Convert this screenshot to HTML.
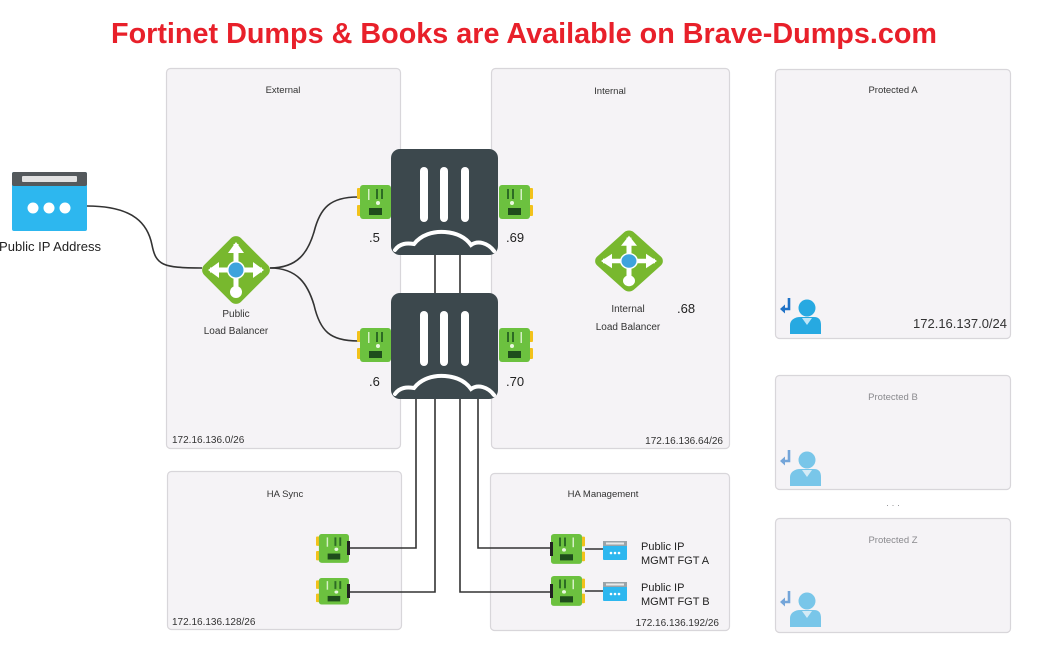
<!DOCTYPE html>
<html><head><meta charset="utf-8"><style>
html,body{margin:0;padding:0;background:#fff;}
svg{display:block;}
text{font-family:"Liberation Sans",sans-serif;}
</style></head><body>
<svg width="1056" height="666" viewBox="0 0 1056 666" xmlns="http://www.w3.org/2000/svg">
<defs>
  <g id="nic">
    <rect x="0" y="3" width="5" height="11" rx="1" fill="#f2c21b"/>
    <rect x="0" y="20" width="5" height="11" rx="1" fill="#f2c21b"/>
    <rect x="3" y="0" width="31" height="34" rx="3" fill="#6cc13f"/>
    <rect x="11" y="4" width="1.5" height="11" fill="#d6efc6"/>
    <rect x="19" y="4" width="2" height="10" fill="#2d6b24"/>
    <rect x="24" y="4" width="2" height="10" fill="#2d6b24"/>
    <circle cx="21" cy="18" r="2" fill="#eaf7df"/>
    <rect x="12" y="23" width="13" height="7" fill="#1f4d1c"/>
  </g>
  <g id="lb">
    <rect x="-26" y="-26" width="52" height="52" rx="7" fill="#78b82e" transform="rotate(45)"/>
    <path d="M-26,0 L26,0 M0,-26 L0,20" stroke="#fff" stroke-width="5" fill="none"/>
    <polygon points="-8,-17 0,-28 8,-17" fill="#fff"/>
    <polygon points="-17,-8 -28,0 -17,8" fill="#fff"/>
    <polygon points="17,-8 28,0 17,8" fill="#fff"/>
    <circle cx="0" cy="22" r="6" fill="#fff"/>
    <circle cx="0" cy="0" r="9" fill="#fff"/>
    <circle cx="0" cy="0" r="7.5" fill="#3ea3dc"/>
  </g>
  <g id="fw">
    <rect x="0" y="0" width="107" height="106" rx="9" fill="#3c484d"/>
    <rect x="29" y="18" width="8" height="55" rx="4" fill="#fff"/>
    <rect x="49" y="18" width="8" height="55" rx="4" fill="#fff"/>
    <rect x="70" y="18" width="8" height="55" rx="4" fill="#fff"/>
    <path d="M4,101 C9,94 16,94 23,95 C30,86 42,82 54,83 C67,84 75,89 80,96 C87,91 97,94 103,102" stroke="#fff" stroke-width="4" fill="none" stroke-linecap="round"/>
  </g>
  <g id="user">
    <path d="M9,1 L9,12 L4,12" stroke="#1f72c6" stroke-width="2.6" fill="none"/>
    <polygon points="0,12 5,7.5 5,16.5" fill="#1f72c6"/>
    <circle cx="27" cy="11" r="8.5" fill="#27a9e1"/>
    <path d="M10,37 L10,28 C10,23 15,20 20,20 L34,20 C39,20 41,23 41,28 L41,37 Z" fill="#27a9e1"/>
    <path d="M22,21 L27,28 L32,21 Z" fill="#bfe6f7"/>
  </g>
  <g id="ipsmall">
    <rect x="0" y="0" width="24" height="19" rx="1" fill="#2db7ef"/>
    <rect x="0" y="0" width="24" height="5" fill="#9aa3a8"/>
    <rect x="3" y="1.5" width="18" height="2" fill="#e8e8e8"/>
    <circle cx="8" cy="12" r="1.3" fill="#fff"/>
    <circle cx="12" cy="12" r="1.3" fill="#fff"/>
    <circle cx="16" cy="12" r="1.3" fill="#fff"/>
  </g>
</defs>

<!-- Title -->
<text x="111" y="43" font-size="29" font-weight="bold" fill="#e8202a" textLength="826" lengthAdjust="spacingAndGlyphs">Fortinet Dumps &amp; Books are Available on Brave-Dumps.com</text>

<!-- Boxes -->
<g fill="#f5f3f6" stroke="#d8d6da" stroke-width="1.2">
  <rect x="166.5" y="68.5" width="234" height="380" rx="4"/>
  <rect x="491.5" y="68.5" width="238" height="380" rx="4"/>
  <rect x="167.5" y="471.5" width="234" height="158" rx="4"/>
  <rect x="490.5" y="473.5" width="239" height="157" rx="4"/>
  <rect x="775.5" y="69.5" width="235" height="269" rx="4"/>
  <rect x="775.5" y="375.5" width="235" height="114" rx="4"/>
  <rect x="775.5" y="518.5" width="235" height="114" rx="4"/>
</g>

<!-- Box labels -->
<g font-size="9.5" fill="#333" text-anchor="middle">
  <text x="283" y="93">External</text>
  <text x="610" y="94">Internal</text>
  <text x="285" y="497">HA Sync</text>
  <text x="603" y="497">HA Management</text>
  <text x="893" y="93">Protected A</text>
</g>
<g font-size="9.5" fill="#8a8a8e" text-anchor="middle">
  <text x="893" y="400">Protected B</text>
  <text x="893" y="543">Protected Z</text>
  <text x="893" y="508" font-size="9">· · ·</text>
</g>

<!-- Subnet labels -->
<g font-size="10" fill="#333">
  <text x="172" y="443">172.16.136.0/26</text>
  <text x="723" y="444" text-anchor="end">172.16.136.64/26</text>
  <text x="172" y="625">172.16.136.128/26</text>
  <text x="719" y="626" text-anchor="end">172.16.136.192/26</text>
  <text x="1007" y="328" text-anchor="end" font-size="13">172.16.137.0/24</text>
</g>

<!-- Connectors -->
<g stroke="#333" stroke-width="1.6" fill="none">
  <path d="M87,206 C135,206 148,225 152,245 C156,265 162,268 202,268"/>
  <path d="M270,268 C298,268 308,252 314,232 C320,208 330,197 358,197"/>
  <path d="M270,268 C298,268 308,285 314,305 C320,331 330,341 358,341"/>
  <path d="M435,255 V293 M460,255 V293"/>
  <path d="M416,398 V548 H349"/>
  <path d="M435,398 V592 H349"/>
  <path d="M460,398 V592 H551"/>
  <path d="M478,398 V548 H551"/>
  <path d="M585,549 H603 M585,591 H603"/>
</g>

<!-- Public IP Address icon -->
<rect x="12" y="172" width="75" height="59" rx="2" fill="#2db7ef"/>
<rect x="12" y="172" width="75" height="14" rx="2" fill="#54595c"/>
<rect x="22" y="176" width="55" height="6" rx="1" fill="#e2e2e2"/>
<circle cx="33" cy="208" r="5.5" fill="#fff"/>
<circle cx="49" cy="208" r="5.5" fill="#fff"/>
<circle cx="65" cy="208" r="5.5" fill="#fff"/>
<text x="50" y="251" font-size="12.5" fill="#222" text-anchor="middle" textLength="102" lengthAdjust="spacingAndGlyphs">Public IP Address</text>

<!-- Load balancers -->
<use href="#lb" transform="translate(236,270)"/>
<g font-size="10" fill="#333" text-anchor="middle">
  <text x="236" y="317">Public</text>
  <text x="236" y="334">Load Balancer</text>
</g>
<use href="#lb" transform="translate(629,261) scale(1,0.9)"/>
<g font-size="10" fill="#333" text-anchor="middle">
  <text x="628" y="312">Internal</text>
  <text x="628" y="330">Load Balancer</text>
</g>
<text x="677" y="313" font-size="13" fill="#222">.68</text>

<!-- Firewalls -->
<use href="#fw" transform="translate(391,149)"/>
<use href="#fw" transform="translate(391,293)"/>

<!-- NICs on firewalls -->
<use href="#nic" transform="translate(357,185)"/>
<use href="#nic" transform="translate(533,185) scale(-1,1)"/>
<use href="#nic" transform="translate(357,328)"/>
<use href="#nic" transform="translate(533,328) scale(-1,1)"/>
<g font-size="13" fill="#222">
  <text x="369" y="242">.5</text>
  <text x="506" y="242">.69</text>
  <text x="369" y="386">.6</text>
  <text x="506" y="386">.70</text>
</g>

<!-- HA Sync NICs -->
<use href="#nic" transform="translate(316,534) scale(0.97,0.85)"/>
<rect x="347" y="541" width="3" height="14" fill="#222"/>
<use href="#nic" transform="translate(316,578) scale(0.97,0.78)"/>
<rect x="347" y="584" width="3" height="14" fill="#222"/>

<!-- HA Mgmt NICs -->
<use href="#nic" transform="translate(585,534) scale(-1,0.88)"/>
<rect x="550" y="542" width="3" height="14" fill="#222"/>
<use href="#nic" transform="translate(585,576) scale(-1,0.88)"/>
<rect x="550" y="584" width="3" height="14" fill="#222"/>
<use href="#ipsmall" transform="translate(603,541)"/>
<use href="#ipsmall" transform="translate(603,582)"/>
<g font-size="11" fill="#222">
  <text x="641" y="550">Public IP</text>
  <text x="641" y="564">MGMT FGT A</text>
  <text x="641" y="591">Public IP</text>
  <text x="641" y="605">MGMT FGT B</text>
</g>

<!-- Users -->
<use href="#user" transform="translate(780,297)"/>
<use href="#user" transform="translate(780,449)" opacity="0.6"/>
<use href="#user" transform="translate(780,590)" opacity="0.6"/>
</svg>
</body></html>
